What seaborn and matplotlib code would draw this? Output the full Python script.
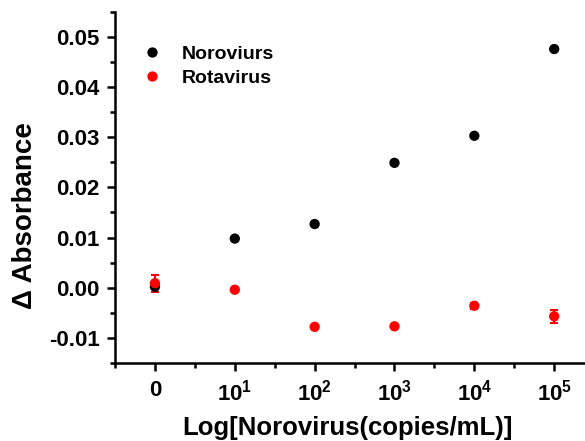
import numpy as np
import pandas as pd
import seaborn as sns
import matplotlib.pyplot as plt
from matplotlib.ticker import MultipleLocator

# Data
conc_pos = [0, 1, 2, 3, 4, 5]
conc_labels = ['0', '$\\mathbf{10^1}$', '$\\mathbf{10^2}$', '$\\mathbf{10^3}$', '$\\mathbf{10^4}$', '$\\mathbf{10^5}$']
noro_vals = [0.0002, 0.0098, 0.0127, 0.0249, 0.0303, 0.0476]
noro_err = [0.0004, 0.0003, 0.0003, 0.0003, 0.0003, 0.0003]
rota_vals = [0.0009, -0.0004, -0.0078, -0.0077, -0.0036, -0.0057]
rota_err = [0.0017, 0.0003, 0.0003, 0.0003, 0.0006, 0.0013]

sns.set_style('ticks')
plt.rcParams['font.family'] = ['Liberation Sans', 'DejaVu Sans']
plt.rcParams['font.weight'] = 'bold'
plt.rcParams['mathtext.fontset'] = 'custom'
plt.rcParams['mathtext.bf'] = 'Liberation Sans:bold'
plt.rcParams['mathtext.rm'] = 'Liberation Sans:bold'
for key in ['text.color', 'axes.labelcolor', 'xtick.color', 'ytick.color', 'axes.edgecolor']:
    plt.rcParams[key] = 'black'

df = pd.DataFrame({
    'x': conc_pos * 2,
    'y': noro_vals + rota_vals,
    'virus': ['Noroviurs'] * 6 + ['Rotavirus'] * 6,
})

fig = plt.figure(figsize=(5.85, 4.41), dpi=100)
ax = fig.add_axes([0.1966, 0.177, 0.819, 0.796])

# error bars first
ax.errorbar(conc_pos, noro_vals, yerr=noro_err, fmt='none', ecolor='black',
            elinewidth=1.5, capsize=3, capthick=1.5)
ax.errorbar(conc_pos, rota_vals, yerr=rota_err, fmt='none', ecolor='red',
            elinewidth=1.5, capsize=3, capthick=1.5)

sns.scatterplot(data=df, x='x', y='y', hue='virus',
                palette={'Noroviurs': 'black', 'Rotavirus': 'red'},
                s=55, edgecolor='none', ax=ax, zorder=3)

ax.set_xlim(-0.5, 5.5)
ax.set_ylim(-0.015, 0.055)
ax.set_xticks(conc_pos)
ax.set_xticklabels(conc_labels)
ax.xaxis.set_minor_locator(MultipleLocator(0.5))
ax.yaxis.set_minor_locator(MultipleLocator(0.005))
ax.set_yticks([-0.01, 0.0, 0.01, 0.02, 0.03, 0.04, 0.05])
ax.set_yticklabels(['-0.01', '0.00', '0.01', '0.02', '0.03', '0.04', '0.05'])

ax.tick_params(axis='both', which='major', length=6, width=1.8, labelsize=16, direction='out')
ax.tick_params(axis='y', which='major', pad=5)
ax.tick_params(axis='x', which='major', pad=6)
ax.tick_params(axis='both', which='minor', length=3.5, width=1.8, direction='out')
for lab in ax.get_xticklabels() + ax.get_yticklabels():
    lab.set_fontweight('bold')

sns.despine(ax=ax)
ax.spines['left'].set_linewidth(1.8)
ax.spines['bottom'].set_linewidth(1.8)

ax.set_xlabel('Log[Norovirus(copies/mL)]', fontsize=18.5, fontweight='bold', va='center')
ax.set_ylabel('Δ Absorbance', fontsize=20, fontweight='bold', va='center')
ax.xaxis.set_label_coords(0.485, -0.185)
ax.yaxis.set_label_coords(-0.188, 0.42)

leg = ax.legend(loc='upper left', bbox_to_anchor=(0.0, 0.955), frameon=False,
                fontsize=14, handletextpad=0.55, markerscale=1.0, labelspacing=0.35)
for t in leg.get_texts():
    t.set_fontweight('bold')

fig.savefig('out.png', dpi=100)
